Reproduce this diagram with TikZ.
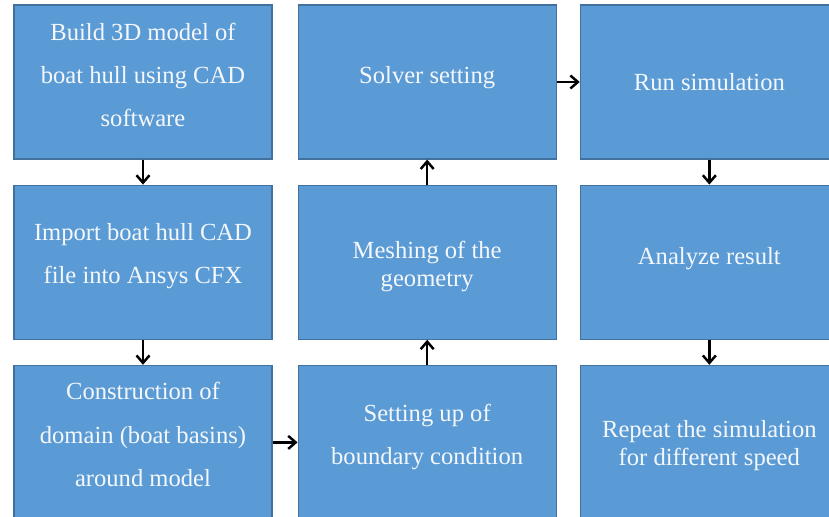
\documentclass[tikz,border=0pt]{standalone}
\usepackage{fontspec}
\setmainfont{Liberation Serif}
\usepackage{xcolor}
\usetikzlibrary{arrows.meta, positioning, calc}

\definecolor{boxfill}{HTML}{5B9BD5}
\definecolor{boxline}{HTML}{41719C}
\definecolor{boxtext}{HTML}{F4F7FB}

\begin{document}
\begin{tikzpicture}[x=0.02cm, y=-0.02cm, node distance=0.5cm and 0.5cm,
    stage/.style={rectangle, draw=boxline, line width=0.7pt, fill=boxfill,
        minimum width=5.16cm, minimum height=3.08cm, inner sep=0pt},
    loose/.style={text=boxtext, align=center, inner sep=0pt, font=\fontsize{14}{24.5}\selectfont},
    tight/.style={text=boxtext, align=center, inner sep=0pt, font=\fontsize{14}{15.8}\selectfont},
    flow/.style={line width=1.4pt, -{Straight Barb[length=1.5mm, width=2.6mm]}}]
    \useasboundingbox (0,0) rectangle (829,517);
    \clip (0,0) rectangle (829,517);
    % boxes
    \node[stage] (build) at (143,82) {};
    \node[stage, below=of build] (import) {};
    \node[stage, below=of import] (domain) {};
    \node[stage, right=of domain] (bc) {};
    \node[stage, right=of import] (mesh) {};
    \node[stage, right=of build] (solver) {};
    \node[stage, right=0.46cm of solver] (run) {};
    \node[stage, below=of run] (analyze) {};
    \node[stage, below=of analyze] (repeat) {};
    % texts
    \node[loose, yshift=4pt] (build-text) at (build) {Build 3D model of\\boat hull using CAD\\software};
    \node[loose, yshift=3.7pt] (import-text) at (import) {Import boat hull CAD\\file into Ansys CFX};
    \node[loose, yshift=4.5pt] (domain-text) at (domain) {Construction of\\domain (boat basins)\\around model};
    \node[loose, yshift=2.8pt] (bc-text) at (bc) {Setting up of\\boundary condition};
    \node[tight, yshift=-2.3pt] (mesh-text) at (mesh) {Meshing of the\\geometry};
    \node[tight, yshift=2.3pt] (solver-text) at (solver) {Solver setting};
    \node[tight] (run-text) at (run) {Run simulation};
    \node[tight, yshift=2.3pt] (analyze-text) at (analyze) {Analyze result};
    \node[tight, yshift=-1.7pt] (repeat-text) at (repeat) {Repeat the simulation\\for different speed};
    % arrows
    \draw[flow] (build) -- (import);
    \draw[flow] (import) -- (domain);
    \draw[flow] (domain) -- (bc);
    \draw[flow] (bc) -- (mesh);
    \draw[flow] (mesh) -- (solver);
    \draw[flow] (solver) -- (run);
    \draw[flow] (run) -- (analyze);
    \draw[flow] (analyze) -- (repeat);
\end{tikzpicture}
\end{document}
